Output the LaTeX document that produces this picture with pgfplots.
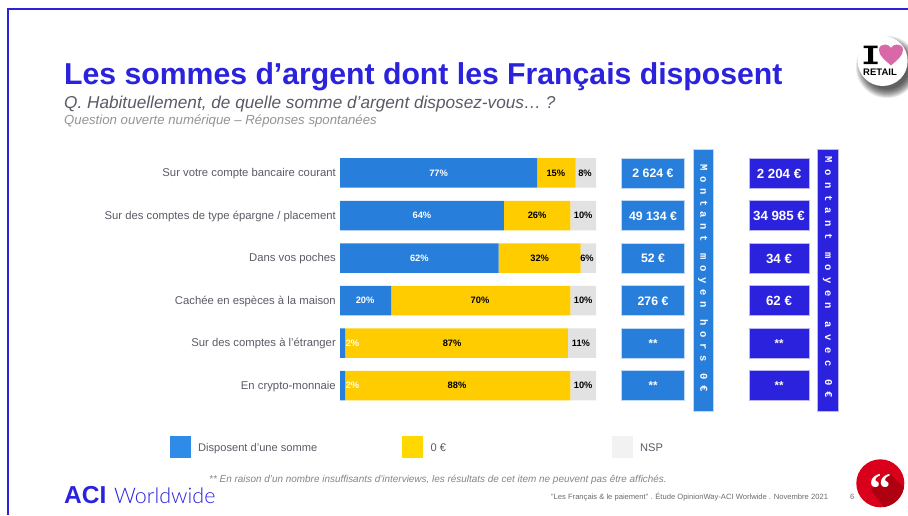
\documentclass[border=0pt]{standalone}
\usepackage{fontspec}
\setmainfont{Liberation Sans}
\newfontfamily\mono[LetterSpace=53]{Liberation Mono}
\newfontfamily\monob[LetterSpace=61]{Liberation Mono}
\newfontfamily\seriff{Liberation Serif}
\newfontfamily\lato{Lato Light}
\usepackage{pgfplots}
\pgfplotsset{compat=1.18}
\usepackage{pgfplotstable}
\definecolor{navy}{HTML}{2A22DC}
\definecolor{barblue}{HTML}{277FDB}
\definecolor{baryel}{HTML}{FFCC00}
\definecolor{bargray}{HTML}{E2E2E2}
\definecolor{txt}{HTML}{5B5B66}
\definecolor{edgeb}{HTML}{BFD8F5}
\definecolor{edgen}{HTML}{B9B6F3}
\definecolor{legblue}{HTML}{2E8BE8}
\definecolor{legyel}{HTML}{FFD800}
\definecolor{heart}{HTML}{D868A8}
\definecolor{qred}{HTML}{D9001B}
\definecolor{qdark}{HTML}{AE0010}
\pgfplotstableread{
row disposent zero nsp
0 77 15 8
1 64 26 10
2 62 32 6
3 20 70 10
4 2 87 11
5 2 88 10
}\bars
\newcommand{\fs}[1]{\fontsize{#1}{#1}\selectfont}
\begin{document}
\begin{tikzpicture}[x=1pt,y=-1pt]
\path[use as bounding box] (0,0) rectangle (908,515);
\fill[white] (0,0) rectangle (908,515);
% frame
\draw[navy,line width=2.2pt] (7.8,515) -- (7.8,9.3) -- (908,9.3);
% titles
\node[anchor=base west,inner sep=0,text=navy] at (64,84) {\fs{30.2}\bfseries Les sommes d’argent dont les Français disposent};
\node[anchor=base west,inner sep=0,text=txt] at (64,108) {\fs{17.2}\itshape Q. Habituellement, de quelle somme d’argent disposez-vous… ?};
\node[anchor=base west,inner sep=0,text=black!42] at (64,124.5) {\fs{13.2}\itshape Question ouverte numérique – Réponses spontanées};
% bars
\begin{axis}[
  at={(340pt,-151.7pt)},anchor=north west,
  scale only axis,width=256pt,height=255.3pt,
  xbar stacked,bar width=29.5pt,
  xmin=0,xmax=100,ymin=-0.5,ymax=5.5,y dir=reverse,
  axis x line=none,axis y line=left,
  y axis line style={draw=none},
  major tick length=0pt,ytick={0,...,5},
  yticklabels={Sur votre compte bancaire courant,Sur des comptes de type épargne / placement,Dans vos poches,Cachée en espèces à la maison,Sur des comptes à l'étranger,En crypto-monnaie},
  yticklabel style={font=\fs{11.3},text=txt,inner sep=0pt,xshift=-4pt,yshift=-0.7pt},
]
\addplot[fill=barblue,draw=none] table[x=disposent,y=row]{\bars};
\addplot[fill=baryel,draw=none] table[x=zero,y=row]{\bars};
\addplot[fill=bargray,draw=none] table[x=nsp,y=row]{\bars};
\end{axis}
\begin{axis}[
  at={(340pt,-151.7pt)},anchor=north west,
  scale only axis,width=256pt,height=255.3pt,
  xmin=0,xmax=100,ymin=-0.5,ymax=5.5,y dir=reverse,hide axis,clip=false,
  /pgf/number format/assume math mode=true,
  nodes near coords={\pgfmathprintnumber{\pgfplotspointmeta}\%},
  point meta=explicit,
]
\addplot[only marks,mark=none,nodes near coords style={anchor=center,inner sep=0,font=\fs{9.3}\bfseries,text=white}] table[x=x,y=y,meta=v]{
x y v
38.5 0 77
32 1 64
31 2 62
9.8 3 20
4.9 4 2
4.9 5 2
};
\addplot[only marks,mark=none,nodes near coords style={anchor=center,inner sep=0,font=\fs{9.3}\bfseries,text=black}] table[x=x,y=y,meta=v]{
x y v
84.3 0 15
77 1 26
78 2 32
54.7 3 70
43.8 4 87
45.7 5 88
95.7 0 8
95 1 10
96.5 2 6
95 3 10
94.1 4 11
95 5 10
};
\end{axis}
% value tiles
\foreach \yy/\a/\b/\sa/\sb in {173/2 624 €/2 204 €/12.3/13.3,215.5/49 134 €/34 985 €/12.3/13.3,258/52 €/34 €/12.3/13.3,300.5/276 €/62 €/12.3/13.3,343/**/**/11.5/11.5,385.5/**/**/11.5/11.5}{
  \filldraw[fill=barblue,draw=edgeb,line width=.5pt] (620.8,\yy-14.8) rectangle (684.7,\yy+14.8);
  \filldraw[fill=navy,draw=edgen,line width=.5pt] (749.2,\yy-14.8) rectangle (808.8,\yy+14.8);
  \node[text=white,inner sep=0] at (653,\yy+0.5) {\fs{\sa}\bfseries\a};
  \node[text=white,inner sep=0] at (779,\yy+0.5) {\fs{\sb}\bfseries\b};
}
% vertical bars
\filldraw[fill=barblue,draw=edgeb,line width=.5pt] (693.4,149.6) rectangle (712.9,411.6);
\filldraw[fill=navy,draw=edgen,line width=.5pt] (817.2,149.6) rectangle (838,411.6);
\node[rotate=-90,text=white,inner sep=0] at (703.2,278) {\mono\fs{10.5}\bfseries Montant moyen hors 0€};
\node[rotate=-90,text=white,inner sep=0] at (827.6,277.5) {\monob\fs{10.5}\bfseries Montant moyen avec 0€};
% legend
\fill[legblue] (169.7,436) rectangle (191.2,457.5);
\fill[legyel] (401.8,436) rectangle (423,457.5);
\fill[black!5] (612,436) rectangle (633.3,457.5);
\node[anchor=base west,inner sep=0,text=txt] at (198,451) {\fs{11.1}Disposent d’une somme};
\node[anchor=base west,inner sep=0,text=txt] at (430.5,451) {\fs{11.1}0 €};
\node[anchor=base west,inner sep=0,text=txt] at (640,451) {\fs{11.1}NSP};
% footer
\node[anchor=base west,inner sep=0,text=black!48] at (209,482) {\fs{9.93}\itshape ** En raison d’un nombre insuffisants d’interviews, les résultats de cet item ne peuvent pas être affichés.};
\node[anchor=base west,inner sep=0,text=black!58] at (551,499.5) {\fs{7.6}"Les Français \& le paiement" . Étude OpinionWay-ACI Worlwide . Novembre 2021};
\node[anchor=base west,inner sep=0,text=black!58] at (850,499.5) {\fs{7.6}6};
\node[anchor=base west,inner sep=0,text=navy] at (64,503) {\fs{24.5}\bfseries ACI};
\node[anchor=base west,inner sep=0,text=navy] at (114,503) {\lato\fs{21.5}Worldwide};
% badge
\begin{scope}
\clip (0,0) rectangle (908,515);
\foreach \r in {31,30,29,28,27,26,25,24,23,22}{
  \fill[black,opacity=.09] (887,67) circle (\r);
}
\end{scope}
\fill[white] (882.7,61) circle (25);
\fill[black] (863.5,45.5) rectangle (877.5,48) (863.5,61.5) rectangle (877.5,64) (868,45.5) rectangle (873,64);
\fill[heart] (891,65.5) .. controls (885,60) and (879,56) .. (879,50) .. controls (879,46) and (882,44.5) .. (885,44.5) .. controls (888,44.5) and (890,46) .. (891,48) .. controls (892,46) and (894,44.5) .. (897,44.5) .. controls (900,44.5) and (903,46) .. (903,50) .. controls (903,56) and (897,60) .. (891,65.5) -- cycle;
\node[anchor=base west,inner sep=0,text=black] at (863,75.5) {\fs{9.5}\bfseries RETAIL};
% quote badge
\begin{scope}
\fill[qred] (880.3,483.3) circle (24);
\clip (880.3,483.3) circle (24);
\fill[qdark] (871,490) -- (889,473) -- (915,498) -- (890,515) -- cycle;
\end{scope}
\node[anchor=base,text=white,inner sep=0] at (880,503) {\seriff\fs{44}\bfseries “};
\end{tikzpicture}
\end{document}
